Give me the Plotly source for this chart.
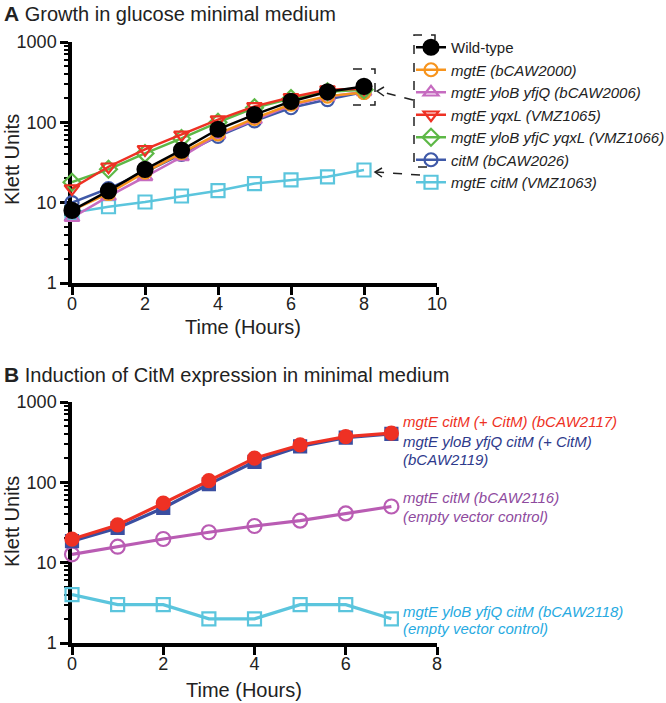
import plotly.graph_objects as go

W, H = 666, 703

# ---------------- Data ----------------
hours_a = [0, 1, 2, 3, 4, 5, 6, 7, 8]
wild_type = [8, 14, 26, 45, 82, 125, 182, 240, 280]
mgtE = [8, 13, 24, 42, 72, 112, 168, 212, 235]
mgtE_yloB_yfjQ = [6.5, 12, 21, 37, 70, 108, 163, 208, 240]
mgtE_yqxL = [15, 28, 46, 70, 108, 158, 205, 255, 262]
mgtE_yloB_yfjC_yqxL = [18, 26, 41, 63, 100, 152, 198, 240, 255]
citM = [10, 15, 24, 40, 67, 104, 152, 192, 238]
mgtE_citM = [7.5, 8.9, 10.2, 12.1, 14.1, 17.3, 19.2, 21, 25.5]

series_a_names = [
    "Wild-type",
    "<i>mgtE (bCAW2000)</i>",
    "<i>mgtE yloB yfjQ (bCAW2006)</i>",
    "<i>mgtE yqxL (VMZ1065)</i>",
    "<i>mgtE yloB yfjC yqxL (VMZ1066)</i>",
    "<i>citM (bCAW2026)</i>",
    "<i>mgtE citM (VMZ1063)</i>",
]

hours_b = [0, 1, 2, 3, 4, 5, 6, 7]
b_2117 = [19.6, 29.5, 55, 105, 200, 292, 371, 409]
b_2119 = [18.5, 27, 48, 95, 180, 280, 360, 400]
b_2116 = [12.7, 15.8, 19.7, 23.9, 28.6, 33.3, 41, 50]
b_2118 = [4, 3, 3, 2, 2, 3, 3, 2]

x_ticks_a = [0, 2, 4, 6, 8, 10]
x_ticks_b = [0, 2, 4, 6, 8]
y_ticks = [1, 10, 100, 1000]

# ---------------- Helpers ----------------
def px(x):
    return x / W

def py(y):
    return 1 - y / H

FONT = "Liberation Sans, Arial, sans-serif"

fig = go.Figure()

styles_a = [
    ("#000000", "circle", wild_type),
    ("#F7941D", "circle-open", mgtE),
    ("#C66BC0", "triangle-up-open", mgtE_yloB_yfjQ),
    ("#EE3124", "triangle-down-open", mgtE_yqxL),
    ("#5DB846", "diamond-open", mgtE_yloB_yfjC_yqxL),
    ("#3F59A8", "circle-open", citM),
    ("#5BC5DD", "square-open", mgtE_citM),
]
order = [6, 5, 2, 1, 4, 3, 0]  # draw order (black last on top)
traces = {}
for i, (name, (col, sym, vals)) in enumerate(zip(series_a_names, styles_a)):
    traces[i] = go.Scatter(
        x=hours_a, y=vals, mode="lines+markers", name=name,
        line=dict(color=col, width=2.5),
        marker=dict(symbol=sym, size=13 if sym != "circle" else 15, color=col,
                    line=dict(color=col, width=2.2)),
        xaxis="x", yaxis="y", cliponaxis=False, legendrank=i + 1,
    )
for i in order:
    fig.add_trace(traces[i])

styles_b = [
    (b_2116, "#B95CB3", "circle-open", 14),
    (b_2118, "#5BC5DD", "square-open", 13),
    (b_2119, "#3A4EA0", "square", 12),
    (b_2117, "#EE3124", "circle", 13),
]
for vals, col, sym, sz in styles_b:
    fig.add_trace(go.Scatter(
        x=hours_b, y=vals, mode="lines+markers", showlegend=False,
        line=dict(color=col, width=3.2),
        marker=dict(symbol=sym, size=sz, color=col, line=dict(color=col, width=2.2)),
        xaxis="x2", yaxis="y2", cliponaxis=False,
    ))

axis_common = dict(
    showgrid=False, zeroline=False, showline=True, linecolor="black", linewidth=3.5,
    ticks="outside", ticklen=8, tickwidth=3, tickcolor="black",
    tickfont=dict(family=FONT, size=18, color="#222"), layer="below traces",
)
minor_y = dict(ticks="outside", ticklen=4, tickwidth=2, tickcolor="black", dtick="D1", showgrid=False)

fig.update_layout(
    width=W, height=H, margin=dict(l=0, r=0, t=0, b=0, autoexpand=False),
    paper_bgcolor="white", plot_bgcolor="white",
    font=dict(family=FONT, color="#222"),
    xaxis=dict(domain=[px(72), px(437)], range=[0, 10], tickvals=x_ticks_a, anchor="y",
               ticklabelstandoff=-6, **axis_common),
    yaxis=dict(domain=[py(283), py(42)], type="log", range=[0, 3], tickvals=y_ticks,
               anchor="x", minor=minor_y, **axis_common),
    xaxis2=dict(domain=[px(72), px(437)], range=[0, 8], tickvals=x_ticks_b, anchor="y2",
                ticklabelstandoff=-6, **axis_common),
    yaxis2=dict(domain=[py(643), py(402)], type="log", range=[0, 3], tickvals=y_ticks,
                anchor="x2", minor=minor_y, **axis_common),
    legend=dict(x=px(411), y=py(31), xanchor="left", yanchor="top",
                font=dict(family=FONT, size=15, color="#222"),
                bgcolor="rgba(0,0,0,0)", itemwidth=30, tracegroupgap=0),
    showlegend=True,
)

annotations = [
    dict(x=px(2), y=py(14), text="<b><span style='font-size:21px'>A</span></b> Growth in glucose minimal medium",
         font=dict(size=20)),
    dict(x=px(2), y=py(375), text="<b><span style='font-size:21px'>B</span></b> Induction of CitM expression in minimal medium",
         font=dict(size=20)),
]
for a in annotations:
    a.update(xref="paper", yref="paper", xanchor="left", yanchor="middle", showarrow=False)

axis_titles = [
    dict(x=px(243), y=py(327), text="Time (Hours)", textangle=0),
    dict(x=px(244), y=py(690), text="Time (Hours)", textangle=0),
    dict(x=px(12), y=py(160), text="Klett Units", textangle=-90),
    dict(x=px(12), y=py(522), text="Klett Units", textangle=-90),
]
for a in axis_titles:
    a.update(xref="paper", yref="paper", xanchor="center", yanchor="middle", showarrow=False,
             font=dict(size=20, color="#222"))
    annotations.append(a)

b_labels = [
    (422, "<i>mgtE citM (+ CitM) (bCAW2117)</i>", "#EE3124"),
    (441, "<i>mgtE yloB yfjQ citM (+ CitM)</i>", "#2E3A8C"),
    (459, "<i>(bCAW2119)</i>", "#2E3A8C"),
    (498, "<i>mgtE citM (bCAW2116)</i>", "#8E4A9E"),
    (516, "<i>(empty vector control)</i>", "#8E4A9E"),
    (611, "<i>mgtE yloB yfjQ citM (bCAW2118)</i>", "#27AAE1"),
    (628, "<i>(empty vector control)</i>", "#27AAE1"),
]
for yy, txt, col in b_labels:
    annotations.append(dict(x=px(401), y=py(yy), xref="paper", yref="paper", text=txt,
                            xanchor="left", yanchor="middle", showarrow=False,
                            font=dict(size=15, color=col)))

fig.update_layout(annotations=annotations)

dash = dict(color="#222", width=1.5, dash="dash")
def path(points):
    s = "M " + " L ".join(f"{px(x)},{py(y)}" for x, y in points)
    return s

shapes = [
    dict(type="path", path=path([(353, 69), (375, 69), (375, 105), (353, 105)]), line=dash),
    dict(type="path", path=path([(413, 100), (378, 91)]), line=dash),
    dict(type="path", path=path([(384, 87), (377, 91), (384, 96)]), line=dict(color="#222", width=1.5)),
    dict(type="path", path=path([(435, 40), (435, 35), (414, 35), (414, 167), (435, 167)]), line=dash),
    dict(type="path", path=path([(420, 175), (375, 172)]), line=dash),
    dict(type="path", path=path([(382, 168), (375, 172), (382, 177)]), line=dict(color="#222", width=1.5)),
]
for s in shapes:
    s.update(xref="paper", yref="paper")
fig.update_layout(shapes=shapes)

fig.write_html("out.html", config={"displayModeBar": False},
               post_script="document.body.style.margin='0px';")
